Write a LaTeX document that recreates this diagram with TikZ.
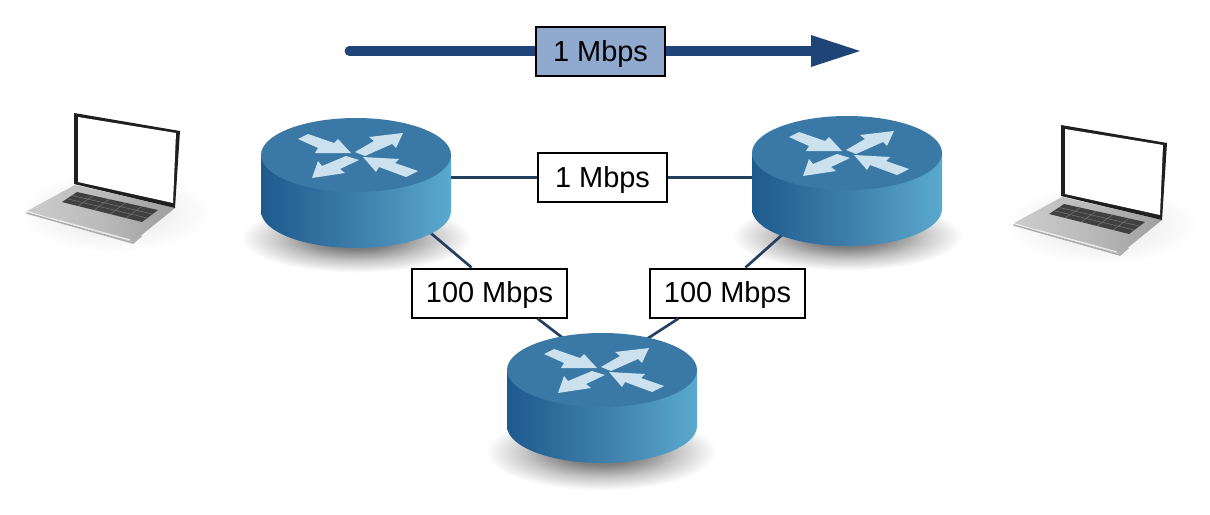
\documentclass[tikz,border=0pt]{standalone}
\usepackage{fontspec}
\setmainfont{Liberation Sans}
\usetikzlibrary{calc,arrows.meta}
\definecolor{navy}{HTML}{1F4477}
\definecolor{linkc}{HTML}{23405F}
\definecolor{topc}{HTML}{3A79A6}
\definecolor{sideL}{HTML}{1E5A8E}
\definecolor{sideR}{HTML}{5AA9CE}
\definecolor{arrc}{HTML}{CBE1EE}
\definecolor{boxc}{HTML}{8FA9CF}
\pgfdeclareradialshading{softshadow}{\pgfpoint{0bp}{0bp}}{color(0bp)=(black!62); color(8bp)=(black!50); color(16bp)=(black!22); color(24bp)=(white); color(50bp)=(white)}
\pgfdeclareradialshading{faintshadow}{\pgfpoint{0bp}{0bp}}{color(0bp)=(black!9); color(14bp)=(black!5); color(24bp)=(white); color(50bp)=(white)}
\tikzset{
  linkbox/.style={draw=black,fill=white,line width=1.5pt,inner sep=0pt,font=\fontsize{21.7}{26}\selectfont,minimum height=36.75pt,text height=19pt,text depth=4.5pt},
  wide/.style={minimum width=116.25pt},
  narrow/.style={minimum width=96.75pt},
  linkline/.style={draw=linkc,line width=2pt},
  hub/.style={inner sep=0pt,minimum size=0pt},
  shadowel/.style={shading=softshadow},
  harrow/.style={fill=arrc},
}
\newcommand{\routergfx}[2]{%
  \begin{scope}[shift={(#1,#2)}]
    \shade[left color=sideL,right color=sideR,middle color=topc!90!sideR]
      (-95,0) -- (-95,56) .. controls (-95,76.4) and (-52.5,93) .. (0,93)
      .. controls (52.5,93) and (95,76.4) .. (95,56) -- (95,0) -- cycle;
    \fill[topc] (-95,0) .. controls (-95,-20.4) and (-52.5,-37) .. (0,-37)
      .. controls (52.5,-37) and (95,-20.4) .. (95,0)
      .. controls (95,20.4) and (52.5,37) .. (0,37)
      .. controls (-52.5,37) and (-95,20.4) .. (-95,0) -- cycle;
    \fill[harrow] (-58,-16) -- (-48,-21) -- (-22,-12) -- (-18,-16) -- (-5,-2) -- (-41,-2) -- (-38,-7) -- cycle;
    \fill[harrow] (-1,-3) -- (18,-14) -- (13,-18) -- (47,-22) -- (40,-7) -- (36,-11) -- (9,1) -- cycle;
    \fill[harrow] (-10,1) -- (-34,11) -- (-38,6) -- (-44,23) -- (-11,18) -- (-16,14) -- (3,5) -- cycle;
    \fill[harrow] (7,2) -- (43,4) -- (39,8) -- (62,16) -- (50,22) -- (23,12) -- (20,17) -- cycle;
  \end{scope}}
\newcommand{\laptopgfx}[2]{%
  \begin{scope}[shift={(#1,#2)}]
    \path[shading=faintshadow] (115,212) ellipse [x radius=100,y radius=42];
    \shade[left color=black!20,right color=black!38,middle color=black!27]
      (27,211) -- (75,185) -- (175,208) -- (133,242) -- cycle;
    \draw[black!32,line width=1.2pt,line cap=round] (27,213) -- (133,243) -- (141,236);
    \draw[black!8,line width=.9pt] (50,218) -- (130,240);
    \fill[black!75] (62,202) -- (77,192) -- (158,210) -- (142,222) -- cycle;
    \foreach \t in {0.2,0.4,0.6,0.8}{
      \draw[black!55,line width=.4pt] ($(62,202)!\t!(142,222)$) -- ($(77,192)!\t!(158,210)$);
    }
    \foreach \t in {0.33,0.66}{
      \draw[black!55,line width=.4pt] ($(62,202)!\t!(77,192)$) -- ($(142,222)!\t!(158,210)$);
    }
    \fill[black!88] (74,113) -- (180,131) -- (175,208) -- (74,184) -- cycle;
    \fill[white] (78,117) -- (176,133) -- (173,203) -- (78,182) -- cycle;
  \end{scope}}
\begin{document}
\begin{tikzpicture}[x=0.75pt,y=-0.75pt]
\useasboundingbox (0,0) rectangle (1210,514);
% shadows
\path[shadowel] (356,238) ellipse [x radius=120,y radius=36];
\path[shadowel] (847,236) ellipse [x radius=120,y radius=36];
\path[shadowel] (601,452) ellipse [x radius=120,y radius=40];
% hubs
\node[hub] (r1) at (356,170) {};
\node[hub] (r2) at (847,177) {};
\node[hub] (r3) at (602,368) {};
% labels
\node[linkbox,narrow] (b1) at (602.5,177.5) {1 Mbps};
\node[linkbox,wide] (b2) at (489.5,293) {100 Mbps};
\node[linkbox,wide] (b3) at (727.5,293) {100 Mbps};
% links
\draw[linkline] (b1.west) -- (b1.west -| r1);
\draw[linkline] (b1.east) -- (b1.east -| r2);
\draw[linkline] (r1) -- ($(b2.north)+(-18,0)$);
\draw[linkline] ($(b2.south)+(48,0)$) -- (r3);
\draw[linkline] (r2) -- ($(b3.north)+(18,0)$);
\draw[linkline] ($(b3.south)+(-49,0)$) -- (r3);
% routers
\routergfx{356}{155}
\routergfx{847}{153}
\routergfx{602}{370}
% laptops
\laptopgfx{0}{0}
\laptopgfx{987}{12}
% rate arrow
\node[hub] (as) at (349,51) {};
\node[hub] (ae) at (860,51) {};
\draw[navy,line width=7pt,line cap=round] (as) -- ($(ae)+(-40,0)$);
\fill[navy] (ae.center) -- ++(-49,-16) -- ++(0,32) -- cycle;
\node[linkbox,narrow,fill=boxc] (top) at (600.5,51.5) {1 Mbps};
\end{tikzpicture}
\end{document}
